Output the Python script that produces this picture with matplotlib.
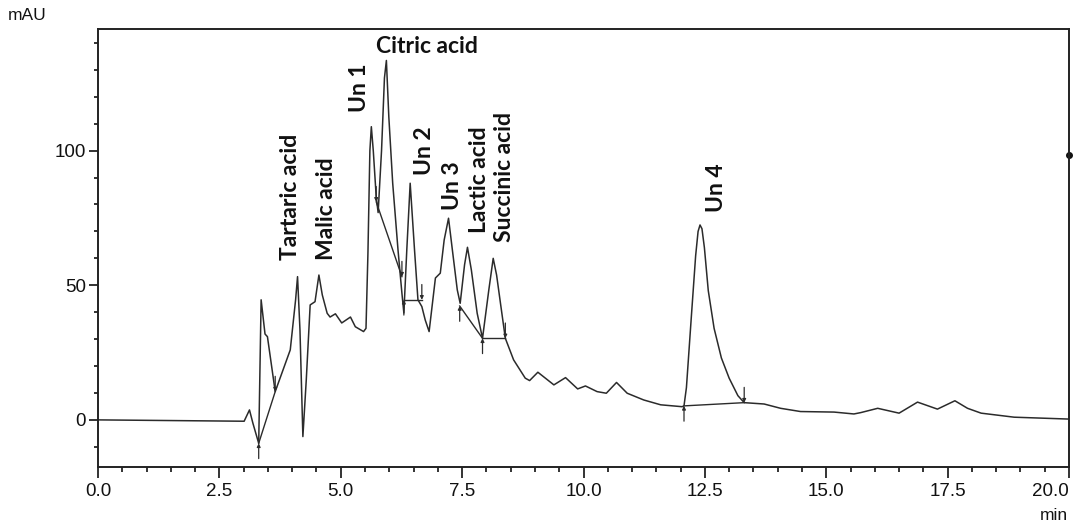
import matplotlib
matplotlib.use("Agg")
import matplotlib.pyplot as plt
from matplotlib.ticker import MultipleLocator

# ---------------- data ----------------
time_min = [0.00, 3.01, 3.12, 3.19, 3.31, 3.36, 3.44, 3.49, 3.65, 3.96, 4.07, 4.11,
            4.16, 4.22, 4.29, 4.37, 4.47, 4.55, 4.62, 4.72, 4.78, 4.89, 5.02, 5.20,
            5.30, 5.47, 5.52, 5.56, 5.60, 5.63, 5.67, 5.73, 5.77, 5.84, 5.90, 5.94,
            5.99, 6.07, 6.18, 6.26, 6.30, 6.36, 6.43, 6.52, 6.59, 6.67, 6.74, 6.82,
            6.95, 7.05, 7.13, 7.22, 7.30, 7.40, 7.46, 7.55, 7.61, 7.69, 7.81, 7.92,
            8.05, 8.14, 8.21, 8.29, 8.39, 8.56, 8.80, 8.89, 9.06, 9.39, 9.63, 9.88,
            10.04, 10.28, 10.47, 10.68, 10.90, 11.24, 11.59, 12.03, 12.07, 12.12,
            12.22, 12.31, 12.36, 12.40, 12.44, 12.49, 12.57, 12.69, 12.84, 13.00,
            13.18, 13.31, 13.72, 14.06, 14.47, 15.16, 15.57, 15.71, 16.06, 16.50,
            16.88, 17.29, 17.65, 17.91, 18.19, 18.87, 20.00]
signal_mau = [0.0, -0.5, 3.7, -1.2, -8.7, 44.6, 31.9, 30.9, 10.5, 26.0, 44.6, 53.2,
              33.4, -6.2, 14.9, 42.7, 43.9, 53.8, 46.4, 39.6, 38.2, 39.4, 36.0, 38.2,
              34.6, 32.8, 34.0, 62.0, 100.0, 108.9, 100.0, 83.0, 77.0, 100.0, 127.0, 133.5,
              112.6, 87.9, 63.0, 47.0, 39.7, 63.0, 87.9, 63.0, 44.6, 42.1, 37.1, 32.8,
              52.7, 54.5, 66.8, 74.9, 63.0, 48.3, 43.3, 57.6, 64.1, 55.7, 39.6, 30.3,
              48.3, 60.0, 53.8, 43.3, 30.3, 22.3, 15.5, 14.6, 17.7, 13.0, 15.7, 11.5,
              12.6, 10.5, 9.9, 13.9, 9.9, 7.4, 5.6, 4.9, 5.2, 12.0,
              38.0, 61.0, 70.0, 72.4, 71.0, 64.0, 48.0, 34.0, 23.0, 15.5,
              9.0, 6.4, 5.9, 4.3, 3.1, 2.9, 2.2, 2.7, 4.3, 2.5,
              6.6, 4.0, 7.1, 4.3, 2.5, 1.0, 0.3]

# integration baselines (start time, start mAU, end time, end mAU)
base_t0 = [3.31, 5.73, 6.30, 7.45, 7.92, 12.07]
base_v0 = [-8.7, 81.0, 44.6, 42.3, 30.3, 5.2]
base_t1 = [3.65, 6.26, 6.67, 7.92, 8.39, 13.31]
base_v1 = [10.5, 53.2, 44.6, 30.3, 30.3, 6.4]

# peak start (up) / end (down) markers
mark_t = [3.31, 3.65, 5.73, 6.26, 6.30, 6.67, 7.45, 7.92, 8.39, 12.07, 13.31]
mark_v = [-8.7, 10.5, 81.0, 53.2, 44.6, 44.6, 42.3, 30.3, 30.3, 5.2, 6.4]
mark_dir = ["up", "down", "down", "down", "up", "down", "up", "up", "down", "up", "down"]

peak_names = ["Tartaric acid", "Malic acid", "Un 1", "Citric acid", "Un 2", "Un 3",
              "Lactic acid", "Succinic acid", "Un 4"]

x_ticks = [0.0, 2.5, 5.0, 7.5, 10.0, 12.5, 15.0, 17.5, 20.0]
y_ticks = [0, 50, 100]

# ---------------- layout ----------------
label_t = [3.97, 4.70, 5.38, 6.78, 6.72, 7.30, 7.86, 8.37, 12.74]
label_v = [59.4, 59.4, 114.4, 138.5, 91.0, 78.0, 69.4, 66.1, 77.2]
label_rot = [90, 90, 90, 0, 90, 90, 90, 90, 90]

plt.rcParams["font.family"] = ["Liberation Sans", "DejaVu Sans"]

fig = plt.figure(figsize=(10.78, 5.25), dpi=100)
ax = fig.add_axes([98 / 1078, 58 / 525, 971 / 1078, 437.5 / 525])

trace_col = "#2b2b2b"
ax.plot(time_min, signal_mau, color=trace_col, lw=1.1, solid_joinstyle="round")
for a, b, c, d in zip(base_t0, base_v0, base_t1, base_v1):
    ax.plot([a, c], [b, d], color=trace_col, lw=1.0)

for t, v, d in zip(mark_t, mark_v, mark_dir):
    off = -11 if d == "up" else 11
    ax.annotate("", xy=(t, v), xytext=(0, off), textcoords="offset points",
                arrowprops=dict(arrowstyle="-|>", lw=0.9, color=trace_col,
                                mutation_scale=5, shrinkA=0, shrinkB=0))

for name, t, v, r in zip(peak_names, label_t, label_v, label_rot):
    ax.text(t, v, name, rotation=r, ha="center",
            va="bottom" if r == 90 else "center",
            fontsize=16.5, fontweight="bold", family=["Lato", "DejaVu Sans"],
            color="#111111")

# little dot on the right frame
ax.plot([20.0], [98.4], marker="o", ms=4, color="#111111", clip_on=False)

ax.set_xlim(0, 20.0)
ax.set_ylim(-17.5, 145)
ax.set_xticks(x_ticks)
ax.set_xticklabels([f"{x:.1f}" for x in x_ticks])
ax.get_xticklabels()[-1].set_horizontalalignment("right")
ax.set_yticks(y_ticks)
ax.xaxis.set_minor_locator(MultipleLocator(0.5))
ax.yaxis.set_minor_locator(MultipleLocator(10))
ax.tick_params(axis="x", which="major", direction="out", length=8, width=1.2,
               labelsize=13.5, pad=3.5, colors="#111111")
ax.tick_params(axis="x", which="minor", direction="out", length=3.5, width=1.2,
               colors="#111111")
ax.tick_params(axis="y", which="major", direction="out", length=6.5, width=1.2,
               labelsize=13.5, pad=2, colors="#111111")
ax.tick_params(axis="y", which="minor", direction="out", length=3, width=1.2,
               colors="#111111")
for s in ax.spines.values():
    s.set_linewidth(1.4)
    s.set_color("#222222")

fig.text(8 / 1078, 1 - 16 / 525, "mAU", fontsize=12.5, ha="left", va="center",
         color="#111111")
fig.text(1068 / 1078, 1 - 515 / 525, "min", fontsize=12.5, ha="right", va="center",
         color="#111111")

fig.savefig("out.png", dpi=100)
